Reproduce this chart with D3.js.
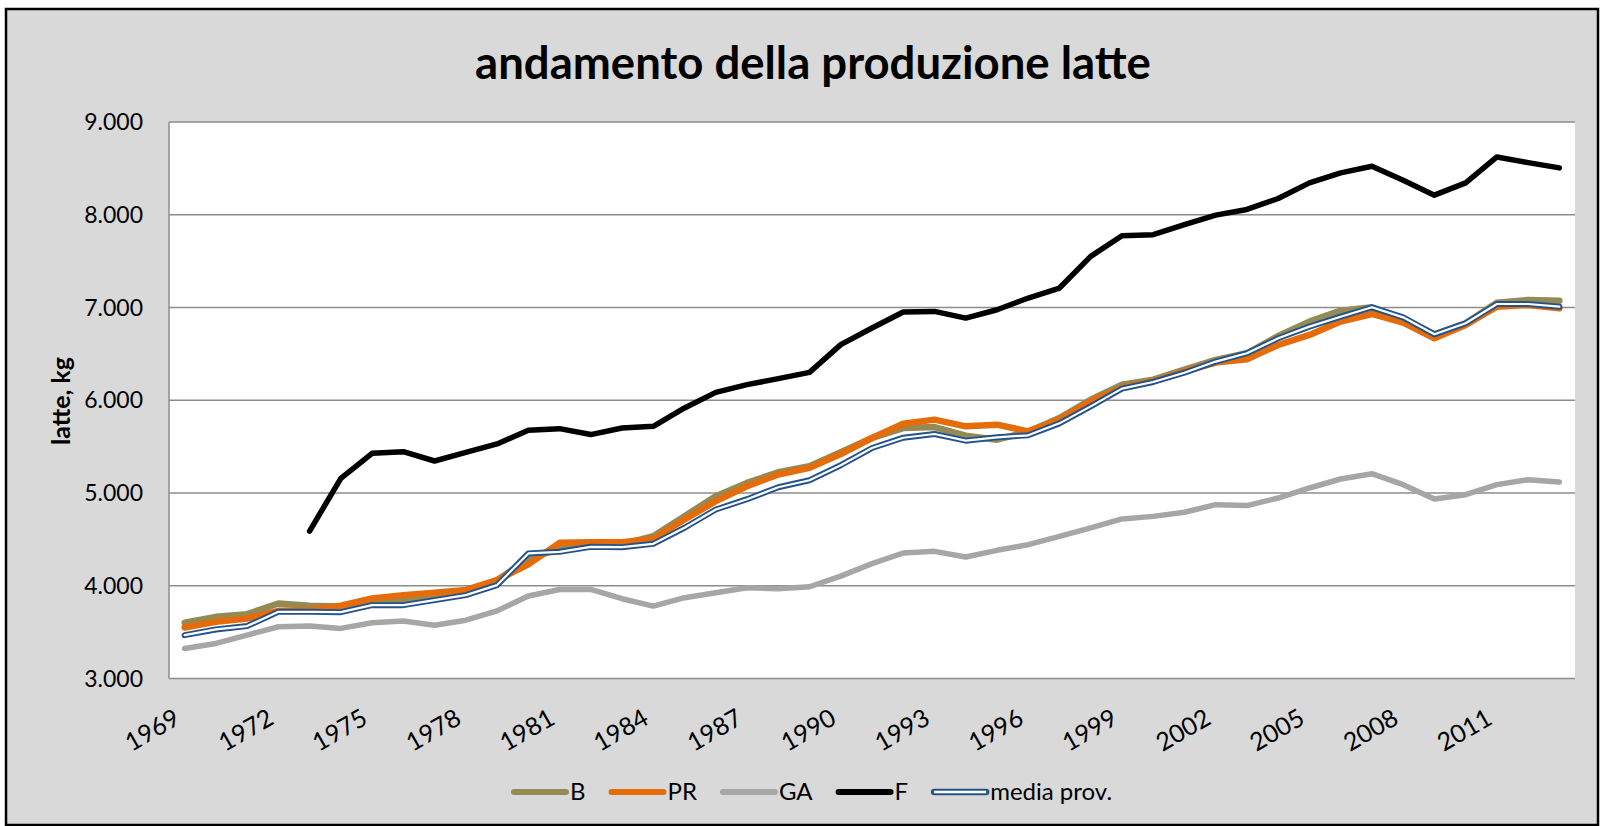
<!DOCTYPE html>
<html>
<head>
<meta charset="utf-8">
<title>andamento della produzione latte</title>
<script src="https://d3js.org/d3.v7.min.js"></script>
<style>
  body { margin: 0; background: #fff; }
  text { font-family: Lato, "Open Sans", sans-serif; fill: #000; }
</style>
</head>
<body>
<script>
// years on the category axis
var years = d3.range(1969, 2014);
var tickYears = [1969, 1972, 1975, 1978, 1981, 1984, 1987, 1990, 1993, 1996, 1999, 2002, 2005, 2008, 2011];
var yTicks = [3000, 4000, 5000, 6000, 7000, 8000, 9000];

// latte, kg per anno
var B = [3601, 3665, 3694, 3809, 3784, 3775, 3830, 3845, 3880, 3930, 4060, 4290, 4400, 4445, 4445,
         4535, 4750, 4965, 5109, 5224, 5289, 5440, 5593, 5700, 5711, 5618, 5575, 5660, 5809, 6006,
         6168, 6222, 6330, 6435, 6507, 6693, 6848, 6966, 7002, 6883, 6711, 6830, 7052, 7081, 7074];
var PR = [3550, 3612, 3647, 3730, 3735, 3784, 3863, 3899, 3924, 3955, 4061, 4230, 4463, 4470, 4470,
          4506, 4714, 4912, 5073, 5199, 5271, 5420, 5593, 5747, 5791, 5719, 5737, 5665, 5791, 5988,
          6132, 6204, 6310, 6406, 6442, 6596, 6704, 6848, 6930, 6837, 6668, 6812, 7009, 7027, 6991];
var GA = [3324, 3378, 3468, 3558, 3565, 3540, 3601, 3619, 3575, 3629, 3730, 3889, 3960, 3960, 3860,
          3781, 3871, 3925, 3978, 3968, 3989, 4104, 4238, 4353, 4371, 4310, 4382, 4443, 4533, 4623,
          4720, 4748, 4792, 4874, 4864, 4946, 5054, 5151, 5208, 5090, 4935, 4982, 5090, 5143, 5118];
var F = [null, null, null, null, 4590, 5158, 5428, 5446, 5345, 5439, 5529, 5676, 5694, 5630, 5701,
         5719, 5917, 6085, 6168, 6233, 6301, 6600, 6779, 6951, 6958, 6886, 6976, 7102, 7210, 7551,
         7774, 7785, 7893, 7996, 8057, 8175, 8344, 8451, 8523, 8372, 8211, 8344, 8623, 8562, 8505];
var media = [3468, 3529, 3565, 3719, 3719, 3715, 3791, 3791, 3845, 3899, 4007, 4348, 4366, 4420, 4416,
             4452, 4625, 4822, 4933, 5062, 5138, 5300, 5485, 5596, 5636, 5564, 5600, 5622, 5751, 5934,
             6125, 6197, 6297, 6417, 6507, 6668, 6794, 6901, 7002, 6894, 6711, 6830, 7038, 7038, 7009];

var series = [
  {name: "B", values: B, color: "#948a54", width: 6.5},
  {name: "PR", values: PR, color: "#e46c0a", width: 6.5},
  {name: "GA", values: GA, color: "#a6a6a6", width: 5.5},
  {name: "F", values: F, color: "#000000", width: 5.5},
  {name: "media prov.", values: media, color: "#24528a", width: 6, inner: "#ffffff"}
];

var width = 1601, height = 826;
var plot = {left: 169, right: 1575, top: 122, bottom: 678.5};

var it = d3.formatLocale({decimal: ",", thousands: ".", grouping: [3], currency: ["€", ""]});
var fmt = it.format(",.0f");

var svg = d3.select("body").append("svg")
    .attr("width", width)
    .attr("height", height);

// chart area + border
svg.append("rect")
    .attr("x", 6).attr("y", 9)
    .attr("width", 1592).attr("height", 816)
    .attr("fill", "#d9d9d9")
    .attr("stroke", "#000")
    .attr("stroke-width", 2.5);

svg.append("rect")
    .attr("x", plot.left).attr("y", plot.top)
    .attr("width", plot.right - plot.left)
    .attr("height", plot.bottom - plot.top)
    .attr("fill", "#fff");

var x = d3.scalePoint()
    .domain(years)
    .range([plot.left, plot.right])
    .padding(0.5);

var y = d3.scaleLinear()
    .domain([3000, 9000])
    .range([plot.bottom, plot.top]);

// gridlines
svg.append("g").selectAll("line")
    .data(yTicks)
    .enter().append("line")
    .attr("x1", plot.left).attr("x2", plot.right)
    .attr("y1", function(d) { return y(d); })
    .attr("y2", function(d) { return y(d); })
    .attr("stroke", "#8c8c8c")
    .attr("stroke-width", 1.5);

svg.append("line")
    .attr("x1", plot.left).attr("x2", plot.left)
    .attr("y1", plot.top).attr("y2", plot.bottom)
    .attr("stroke", "#8c8c8c")
    .attr("stroke-width", 1.5);

// y labels
svg.append("g").selectAll("text")
    .data(yTicks)
    .enter().append("text")
    .attr("x", 143)
    .attr("y", function(d) { return y(d); })
    .attr("dy", "0.35em")
    .attr("text-anchor", "end")
    .style("font-size", "23px")
    .text(function(d) { return fmt(d); });

// x labels, rotated
svg.append("g").selectAll("text")
    .data(tickYears)
    .enter().append("text")
    .attr("transform", function(d) { return "translate(" + (x(d) - 3) + ",723) rotate(-30)"; })
    .attr("text-anchor", "end")
    .style("font-size", "25px")
    .text(function(d) { return d; });

// lines
var line = d3.line()
    .defined(function(d) { return d.v != null; })
    .x(function(d) { return x(d.year); })
    .y(function(d) { return y(d.v); });

series.forEach(function(s) {
  var pts = years.map(function(yr, i) { return {year: yr, v: s.values[i]}; });
  svg.append("path")
      .datum(pts)
      .attr("d", line)
      .attr("fill", "none")
      .attr("stroke", s.color)
      .attr("stroke-width", s.width)
      .attr("stroke-linejoin", "round")
      .attr("stroke-linecap", "round");
  if (s.inner) {
    svg.append("path")
        .datum(pts)
        .attr("d", line)
        .attr("fill", "none")
        .attr("stroke", s.inner)
        .attr("stroke-width", 2.2)
        .attr("stroke-linejoin", "round")
        .attr("stroke-linecap", "round");
  }
});

// title
svg.append("text")
    .attr("x", 813)
    .attr("y", 79)
    .attr("text-anchor", "middle")
    .style("font-size", "45.5px")
    .style("font-weight", "bold")
    .text("andamento della produzione latte");

// y axis title
svg.append("text")
    .attr("transform", "translate(70,401) rotate(-90)")
    .attr("text-anchor", "middle")
    .style("font-size", "25px")
    .style("font-weight", "bold")
    .text("latte, kg");

// legend
var legend = svg.append("g");
var lx = 0;
series.forEach(function(s) {
  var g = legend.append("g").attr("transform", "translate(" + lx + ",0)");
  g.append("line")
      .attr("x1", 2).attr("x2", 54)
      .attr("stroke", s.color)
      .attr("stroke-width", s.inner ? 6.5 : 6)
      .attr("stroke-linecap", "round");
  if (s.inner) {
    g.append("line")
        .attr("x1", 2).attr("x2", 54)
        .attr("stroke", s.inner)
        .attr("stroke-width", 2.4);
  }
  var t = g.append("text")
      .attr("x", 58)
      .attr("dy", "0.35em")
      .style("font-size", "24px")
      .text(s.name);
  lx += 58 + t.node().getComputedTextLength() + 24;
});
legend.attr("transform", "translate(" + (812 - (lx - 24) / 2) + ",792)");
</script>
</body>
</html>
